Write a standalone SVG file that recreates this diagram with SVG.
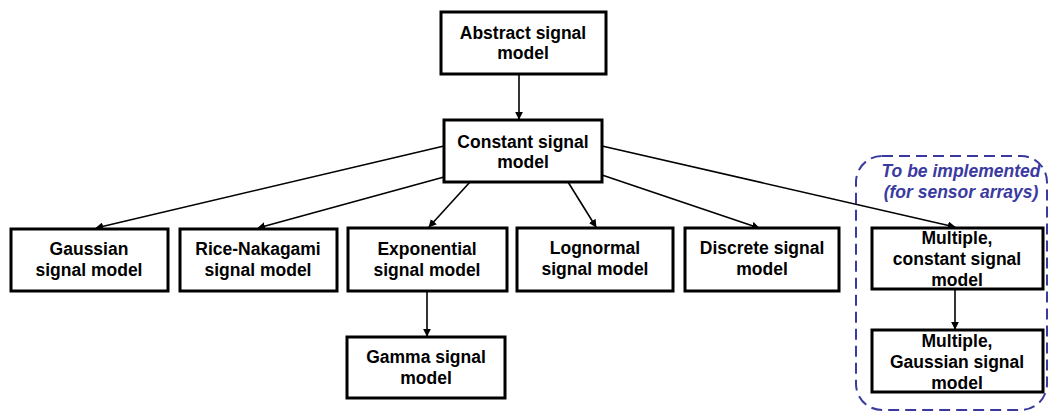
<svg xmlns="http://www.w3.org/2000/svg" width="1049" height="413" viewBox="0 0 1049 413">
<style>
.box{fill:#fff;stroke:#000;stroke-width:3}
.t{font-family:"Liberation Sans",Arial,sans-serif;font-weight:bold;font-size:17.5px;text-anchor:middle;fill:#000}
.c{stroke:#000;stroke-width:1.6;fill:none;marker-end:url(#ah)}
.grp{fill:none;stroke:#3a3a9e;stroke-width:2;stroke-dasharray:11,6}
.note{font-family:"Liberation Sans",Arial,sans-serif;font-weight:bold;font-style:italic;font-size:17.5px;text-anchor:middle;fill:#3a3aa0}
</style>
<defs>
<marker id="ah" viewBox="0 0 10 10" refX="9" refY="5" markerWidth="8" markerHeight="8" orient="auto" markerUnits="userSpaceOnUse"><path d="M0,0 L10,5 L0,10 z" fill="#000"/></marker>
</defs>
<rect class="grp" x="856" y="156" width="191" height="254" rx="26"/>
<text class="note" x="961" y="177">To be implemented</text>
<text class="note" x="961" y="198">(for sensor arrays)</text>
<g id="connectors">
<line class="c" x1="519" y1="75" x2="519" y2="119"/>
<line class="c" x1="444" y1="146" x2="96" y2="228"/>
<line class="c" x1="444" y1="177" x2="258" y2="228"/>
<line class="c" x1="470" y1="182" x2="429" y2="227"/>
<line class="c" x1="568" y1="182" x2="596" y2="227"/>
<line class="c" x1="602" y1="175" x2="759" y2="228"/>
<line class="c" x1="602" y1="146" x2="955" y2="227"/>
<line class="c" x1="427" y1="292" x2="427" y2="336"/>
<line class="c" x1="955" y1="290" x2="955" y2="329"/>
</g>
<g id="abstract"><rect class="box" x="441" y="12" width="165" height="62"/><text class="t" x="523" y="39">Abstract signal</text><text class="t" x="523" y="59">model</text></g>
<g id="constant"><rect class="box" x="444" y="120" width="158" height="62"/><text class="t" x="523" y="148">Constant signal</text><text class="t" x="523" y="168">model</text></g>
<g id="gaussian"><rect class="box" x="11" y="229" width="157" height="62"/><text class="t" x="89" y="255">Gaussian</text><text class="t" x="89" y="276">signal model</text></g>
<g id="rice"><rect class="box" x="180" y="229" width="157" height="62"/><text class="t" x="258" y="255">Rice-Nakagami</text><text class="t" x="258" y="276">signal model</text></g>
<g id="exponential"><rect class="box" x="348" y="228" width="159" height="63"/><text class="t" x="427" y="255">Exponential</text><text class="t" x="427" y="276">signal model</text></g>
<g id="lognormal"><rect class="box" x="517" y="228" width="156" height="63"/><text class="t" x="595" y="254">Lognormal</text><text class="t" x="595" y="275">signal model</text></g>
<g id="discrete"><rect class="box" x="685" y="228" width="154" height="63"/><text class="t" x="762" y="254">Discrete signal</text><text class="t" x="762" y="275">model</text></g>
<g id="gamma"><rect class="box" x="347" y="337" width="158" height="61"/><text class="t" x="426" y="363">Gamma signal</text><text class="t" x="426" y="384">model</text></g>
<g id="multconst"><rect class="box" x="872" y="228" width="171" height="61"/><text class="t" x="957" y="244">Multiple,</text><text class="t" x="957" y="265">constant signal</text><text class="t" x="957" y="286">model</text></g>
<g id="multgauss"><rect class="box" x="872" y="330" width="171" height="62"/><text class="t" x="957" y="347">Multiple,</text><text class="t" x="957" y="368">Gaussian signal</text><text class="t" x="957" y="389">model</text></g>
</svg>
